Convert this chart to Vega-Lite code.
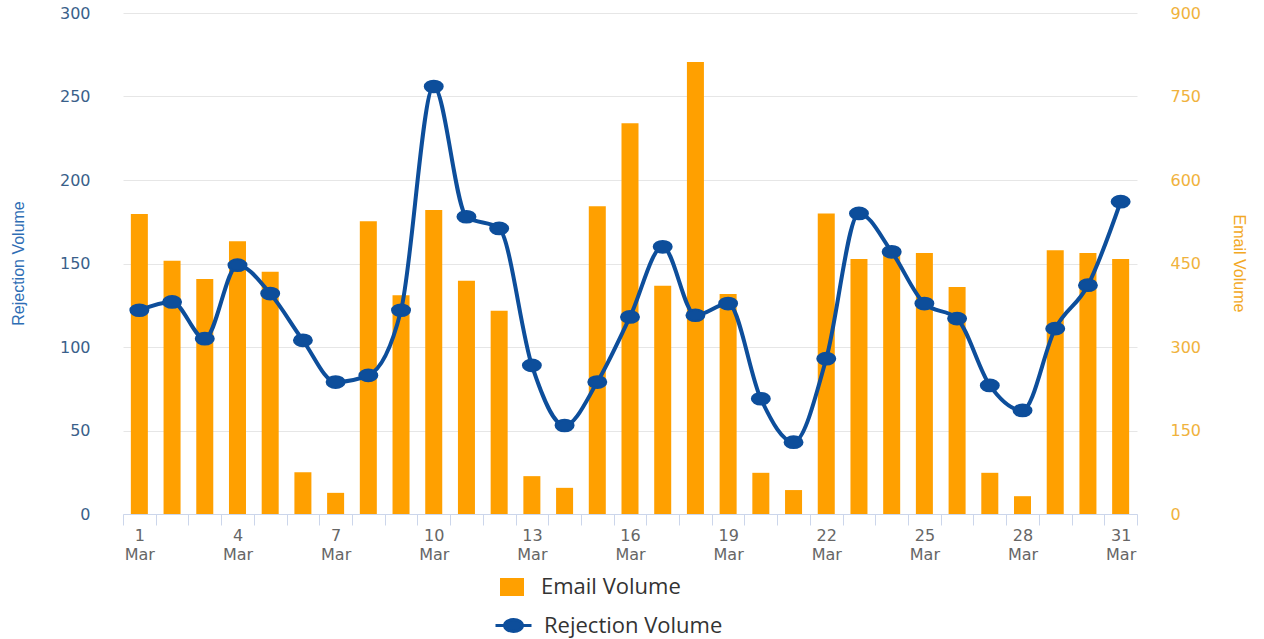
{
  "$schema": "https://vega.github.io/schema/vega-lite/v6.json",
  "width": 1014,
  "height": 501,
  "autosize": {"type": "none"},
  "padding": {"left": 123, "top": 13, "right": 127, "bottom": 125},
  "background": "white",
  "config": {"view": {"stroke": null}},
  "data": {
    "values": [
      {"day": 1, "email": 539, "rejection": 122},
      {"day": 2, "email": 455, "rejection": 127},
      {"day": 3, "email": 422, "rejection": 105},
      {"day": 4, "email": 490, "rejection": 149},
      {"day": 5, "email": 435, "rejection": 132},
      {"day": 6, "email": 75, "rejection": 104},
      {"day": 7, "email": 38, "rejection": 79},
      {"day": 8, "email": 526, "rejection": 83},
      {"day": 9, "email": 393, "rejection": 122},
      {"day": 10, "email": 546, "rejection": 256},
      {"day": 11, "email": 419, "rejection": 178},
      {"day": 12, "email": 365, "rejection": 171},
      {"day": 13, "email": 68, "rejection": 89},
      {"day": 14, "email": 47, "rejection": 53},
      {"day": 15, "email": 553, "rejection": 79},
      {"day": 16, "email": 702, "rejection": 118},
      {"day": 17, "email": 410, "rejection": 160},
      {"day": 18, "email": 812, "rejection": 119},
      {"day": 19, "email": 395, "rejection": 126},
      {"day": 20, "email": 74, "rejection": 69},
      {"day": 21, "email": 43, "rejection": 43},
      {"day": 22, "email": 540, "rejection": 93},
      {"day": 23, "email": 458, "rejection": 180},
      {"day": 24, "email": 471, "rejection": 157},
      {"day": 25, "email": 469, "rejection": 126},
      {"day": 26, "email": 408, "rejection": 117},
      {"day": 27, "email": 74, "rejection": 77},
      {"day": 28, "email": 32, "rejection": 62},
      {"day": 29, "email": 474, "rejection": 111},
      {"day": 30, "email": 469, "rejection": 137},
      {"day": 31, "email": 458, "rejection": 187}
    ]
  },
  "encoding": {
    "x": {
      "field": "day",
      "type": "ordinal",
      "scale": {"paddingInner": 0, "paddingOuter": 0},
      "axis": {
        "title": null,
        "grid": false,
        "domainColor": "#ccd6eb",
        "tickColor": "#ccd6eb",
        "tickSize": 11,
        "tickBand": "extent",
        "labelAngle": 0,
        "labelExpr": "(datum.value - 1) % 3 == 0 ? [datum.value + '', 'Mar'] : ''",
        "labelColor": "#666666",
        "labelFont": "DejaVu Sans",
        "labelFontSize": 16,
        "labelLineHeight": 19,
        "labelPadding": 2
      }
    }
  },
  "layer": [
    {
      "mark": {"type": "bar", "color": "#FFA000", "width": {"band": 0.52}},
      "encoding": {
        "y": {
          "field": "email",
          "type": "quantitative",
          "scale": {"domain": [0, 900], "nice": false},
          "axis": {
            "orient": "right",
            "values": [0, 150, 300, 450, 600, 750, 900],
            "title": "Email Volume",
            "domain": false,
            "ticks": false,
            "grid": false,
            "labelColor": "#F0B23C",
            "labelFont": "DejaVu Sans",
            "labelFontSize": 16,
            "labelPadding": 33,
            "titleColor": "#F2A824",
            "titleFont": "Liberation Sans",
            "titleFontSize": 16,
            "titleFontWeight": "normal",
            "titleAngle": 90,
            "titleX": 101,
            "titleY": 250,
            "titleAlign": "center",
            "titleBaseline": "middle"
          }
        },
        "fill": {
          "datum": "Email Volume",
          "scale": {"range": ["#FFA000"]},
          "legend": {
            "orient": "none",
            "legendX": 377,
            "legendY": 562,
            "title": null,
            "symbolType": "M-1,-0.75H1V0.75H-1Z",
            "symbolSize": 576,
            "symbolStrokeWidth": 0,
            "labelFont": "Open Sans",
            "labelFontSize": 22,
            "labelColor": "#333333",
            "labelOffset": 17,
            "labelLimit": 400
          }
        }
      }
    },
    {
      "encoding": {
        "y": {
          "field": "rejection",
          "type": "quantitative",
          "scale": {"domain": [0, 300], "nice": false},
          "axis": {
            "orient": "left",
            "values": [0, 50, 100, 150, 200, 250, 300],
            "title": "Rejection Volume",
            "domain": false,
            "ticks": false,
            "grid": true,
            "gridColor": "#e6e6e6",
            "labelColor": "#3A5F8A",
            "labelFont": "DejaVu Sans",
            "labelFontSize": 16,
            "labelPadding": 33,
            "titleColor": "#2E6DB4",
            "titleFont": "Liberation Sans",
            "titleFontSize": 16,
            "titleFontWeight": "normal",
            "titleAngle": -90,
            "titleX": -105,
            "titleY": 250,
            "titleAlign": "center",
            "titleBaseline": "middle"
          }
        },
        "stroke": {
          "datum": "Rejection Volume",
          "scale": {"range": ["#0D4E9B"]},
          "legend": {
            "orient": "none",
            "legendX": 371,
            "legendY": 593,
            "title": null,
            "symbolType": "M-1,0H1M-0.5,0A0.5,0.33 0 1,0 0.5,0A0.5,0.33 0 1,0 -0.5,0Z",
            "symbolSize": 1296,
            "symbolStrokeWidth": 3,
            "symbolFillColor": "#0D4E9B",
            "symbolStrokeColor": "#0D4E9B",
            "labelFont": "Open Sans",
            "labelFontSize": 22,
            "labelColor": "#333333",
            "labelOffset": 11,
            "labelLimit": 400
          }
        }
      },
      "layer": [
        {"mark": {"type": "line", "interpolate": "monotone", "strokeWidth": 4}},
        {
          "mark": {
            "type": "point",
            "filled": true,
            "color": "#0D4E9B",
            "opacity": 1,
            "shape": "M-1,0A1,0.65 0 1,0 1,0A1,0.65 0 1,0 -1,0Z",
            "size": 324
          }
        }
      ]
    }
  ],
  "resolve": {"scale": {"y": "independent", "fill": "independent", "stroke": "independent"}}
}
